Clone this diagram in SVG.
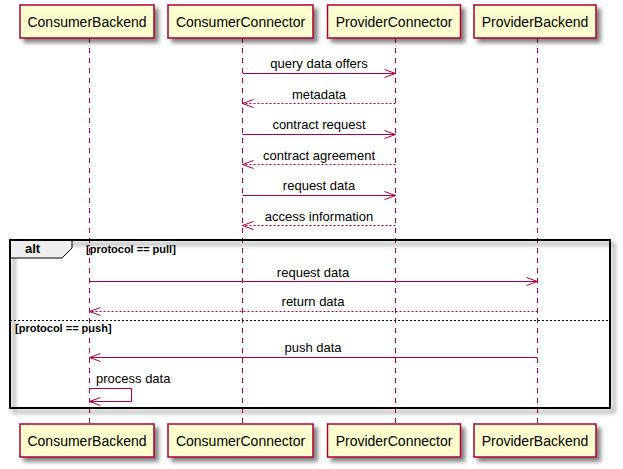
<svg xmlns="http://www.w3.org/2000/svg" width="623" height="469" viewBox="0 0 623 469">
<defs>
<filter id="sh" x="-20%" y="-20%" width="150%" height="160%">
<feGaussianBlur in="SourceAlpha" stdDeviation="2" result="b"/>
<feOffset in="b" dx="4" dy="4" result="o"/>
<feComponentTransfer in="o" result="s"><feFuncA type="linear" slope="0.5"/></feComponentTransfer>
<feMerge><feMergeNode in="s"/><feMergeNode in="SourceGraphic"/></feMerge>
</filter>
<marker id="ah" markerUnits="userSpaceOnUse" markerWidth="12" markerHeight="10" refX="11" refY="4.5" orient="auto" overflow="visible">
<path d="M0,0.5 L11,4.5 L0,8.5" fill="none" stroke="#A80036" stroke-width="1" stroke-dasharray="none"/>
</marker>
<style>
.box{fill:#FEFECE;stroke:#A80036;stroke-width:1.5;filter:url(#sh)}
.pt{font-family:"Liberation Sans",Arial,sans-serif;font-size:14px;fill:#000;text-anchor:middle}
.life{stroke:#A80036;stroke-width:1;stroke-dasharray:5,5;fill:none}
.msg{stroke:#A80036;stroke-width:1;fill:none;marker-end:url(#ah)}
.ret{stroke-dasharray:2,2}
.ml{font-family:"Liberation Sans",Arial,sans-serif;font-size:13px;fill:#000;text-anchor:middle}
.gl{font-family:"Liberation Sans",Arial,sans-serif;font-size:11px;font-weight:bold;fill:#000}
</style>
</defs>
<rect width="623" height="469" fill="#FFFFFF"/>
<g id="lifelines">
<line class="life" x1="89.5" y1="38" x2="89.5" y2="424"/>
<line class="life" x1="242.5" y1="38" x2="242.5" y2="424"/>
<line class="life" x1="395.5" y1="38" x2="395.5" y2="424"/>
<line class="life" x1="537.5" y1="38" x2="537.5" y2="424"/>
</g>
<g id="alt-frame">
<rect x="10" y="240" width="600" height="168" fill="none" stroke="#000" stroke-width="2" filter="url(#sh)"/>
<polygon points="10,240 72,240 72,248 62,258 10,258" fill="#EEEEEE" stroke="#000" stroke-width="1"/>
<rect x="10" y="240" width="600" height="168" fill="none" stroke="#000" stroke-width="2"/>
<text x="25" y="253" font-family="'Liberation Sans',Arial,sans-serif" font-size="13" font-weight="bold">alt</text>
<text class="gl" x="86" y="253">[protocol == pull]</text>
<line x1="10" y1="320.5" x2="610" y2="320.5" stroke="#000" stroke-width="1" stroke-dasharray="2,2"/>
<text class="gl" x="15" y="331.5">[protocol == push]</text>
</g>
<g id="participants-top">
<g id="p-consumerbackend-top"><rect class="box" x="20" y="5" width="134" height="33"/><text class="pt" x="87" y="27">ConsumerBackend</text></g>
<g id="p-consumerconnector-top"><rect class="box" x="168" y="5" width="145" height="33"/><text class="pt" x="240.5" y="27">ConsumerConnector</text></g>
<g id="p-providerconnector-top"><rect class="box" x="327.5" y="5" width="133" height="33"/><text class="pt" x="394" y="27">ProviderConnector</text></g>
<g id="p-providerbackend-top"><rect class="box" x="474" y="5" width="122" height="33"/><text class="pt" x="535" y="27">ProviderBackend</text></g>
</g>
<g id="participants-bottom">
<g id="p-consumerbackend-bottom"><rect class="box" x="20" y="424" width="134" height="33"/><text class="pt" x="87" y="446">ConsumerBackend</text></g>
<g id="p-consumerconnector-bottom"><rect class="box" x="168" y="424" width="145" height="33"/><text class="pt" x="240.5" y="446">ConsumerConnector</text></g>
<g id="p-providerconnector-bottom"><rect class="box" x="327.5" y="424" width="133" height="33"/><text class="pt" x="394" y="446">ProviderConnector</text></g>
<g id="p-providerbackend-bottom"><rect class="box" x="474" y="424" width="122" height="33"/><text class="pt" x="535" y="446">ProviderBackend</text></g>
</g>
<g id="connectors">
<line class="msg" x1="242.5" y1="73.5" x2="395.5" y2="73.5"/>
<text class="ml" x="319" y="68">query data offers</text>
<line class="msg ret" x1="395.5" y1="103.5" x2="242.5" y2="103.5"/>
<text class="ml" x="319" y="98.5">metadata</text>
<line class="msg" x1="242.5" y1="134.5" x2="395.5" y2="134.5"/>
<text class="ml" x="319" y="129">contract request</text>
<line class="msg ret" x1="395.5" y1="164.5" x2="242.5" y2="164.5"/>
<text class="ml" x="319" y="159.5">contract agreement</text>
<line class="msg" x1="242.5" y1="195.5" x2="395.5" y2="195.5"/>
<text class="ml" x="319" y="190">request data</text>
<line class="msg ret" x1="395.5" y1="225.5" x2="242.5" y2="225.5"/>
<text class="ml" x="319" y="220.5">access information</text>
<line class="msg" x1="89.5" y1="281.5" x2="537.5" y2="281.5"/>
<text class="ml" x="313" y="276.5">request data</text>
<line class="msg ret" x1="537.5" y1="311.5" x2="89.5" y2="311.5"/>
<text class="ml" x="313" y="306">return data</text>
<line class="msg" x1="537.5" y1="357.5" x2="89.5" y2="357.5"/>
<text class="ml" x="313" y="352">push data</text>
<polyline class="msg" points="89.5,388.5 131.5,388.5 131.5,401.5 89.5,401.5"/>
<text class="ml" x="96" y="383" style="text-anchor:start">process data</text>
</g>
</svg>
